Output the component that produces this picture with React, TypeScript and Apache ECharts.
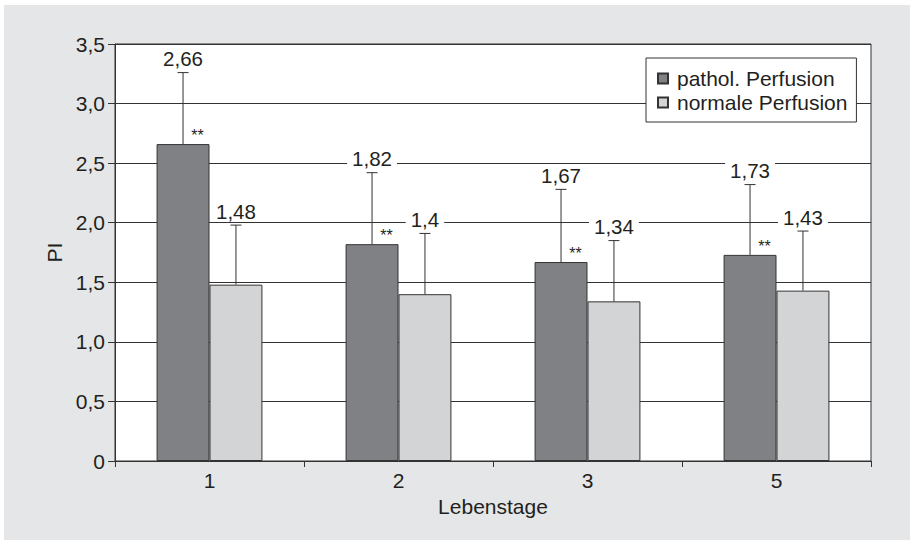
import React, { useEffect, useRef } from 'react';
import * as echarts from 'echarts';

const categories = ['1', '2', '3', '5'];
const seriesNames = ['pathol. Perfusion', 'normale Perfusion'];
const patholValues = [2.66, 1.82, 1.67, 1.73];
const normalValues = [1.48, 1.4, 1.34, 1.43];
const patholSD = [0.6, 0.6, 0.61, 0.59];
const normalSD = [0.5, 0.51, 0.51, 0.5];
const patholMarks = ['**', '**', '**', '**'];
const yMin = 0;
const yMax = 3.5;
const yStep = 0.5;

const FONT = '"Liberation Sans", Arial, Helvetica, sans-serif';
const TEXT = '#231f20';
const LINE = '#333';
const DARK = '#808185';
const LIGHT = '#d3d4d6';

const fmt = (v: number) => String(v).replace('.', ',');

export default function App() {
  const ref = useRef<HTMLDivElement>(null);
  useEffect(() => {
    if (!ref.current) return;
    const chart = echarts.init(ref.current, null, { renderer: 'svg' });
    const errData: any[] = [];
    patholValues.forEach((v, i) => errData.push([i, v, patholSD[i], 0]));
    normalValues.forEach((v, i) => errData.push([i, v, normalSD[i], 1]));

    chart.setOption({
      animation: false,
      backgroundColor: 'transparent',
      textStyle: { fontFamily: FONT },
      grid: {
        left: 115,
        top: 44,
        right: 39,
        bottom: 79,
        show: true,
        backgroundColor: '#fff',
        borderColor: LINE,
        borderWidth: 1,
      },
      legend: {
        data: seriesNames,
        orient: 'vertical',
        left: 646,
        top: 58,
        backgroundColor: '#fff',
        borderColor: LINE,
        borderWidth: 1,
        borderRadius: 0,
        padding: [10, 9, 9, 11],
        itemWidth: 10,
        itemHeight: 10,
        itemGap: 3,
        icon: 'rect',
        selectedMode: false,
        textStyle: { fontSize: 21, color: TEXT, fontFamily: FONT, padding: [0, 0, 0, 4] },
      },
      xAxis: {
        type: 'category',
        data: categories,
        name: 'Lebenstage',
        nameLocation: 'middle',
        nameGap: 34,
        nameTextStyle: { fontSize: 21, color: TEXT, fontFamily: FONT },
        axisLine: { lineStyle: { color: LINE, width: 1 } },
        axisTick: { show: true, length: 6, lineStyle: { color: LINE } },
        axisLabel: { fontSize: 21, color: TEXT, margin: 9, fontFamily: FONT },
        splitLine: { show: false },
      },
      yAxis: {
        type: 'value',
        min: yMin,
        max: yMax,
        interval: yStep,
        name: 'PI',
        nameLocation: 'middle',
        nameGap: 50,
        nameTextStyle: { fontSize: 21, color: TEXT, fontFamily: FONT },
        axisLine: { show: true, lineStyle: { color: LINE, width: 1 } },
        axisTick: { show: true, length: 7, lineStyle: { color: LINE } },
        axisLabel: {
          fontSize: 21,
          color: TEXT,
          margin: 10,
          fontFamily: FONT,
          formatter: (v: number) => (v === 0 ? '0' : v.toFixed(1).replace('.', ',')),
        },
        splitLine: { show: true, lineStyle: { color: LINE, width: 1 } },
      },
      series: [
        {
          name: seriesNames[0],
          type: 'bar',
          data: patholValues,
          barWidth: '28%',
          barGap: '0%',
          itemStyle: { color: DARK, borderColor: LINE, borderWidth: 1 },
        },
        {
          name: seriesNames[1],
          type: 'bar',
          data: normalValues,
          barWidth: '28%',
          barGap: '0%',
          itemStyle: { color: LIGHT, borderColor: LINE, borderWidth: 1 },
        },
        {
          name: 'errors',
          type: 'custom',
          z: 5,
          clip: false,
          encode: { x: 0, y: 1 },
          data: errData,
          renderItem: (params: any, api: any) => {
            const ci = api.value(0);
            const v = api.value(1);
            const sd = api.value(2);
            const s = api.value(3);
            const band = api.size([1, 0])[0];
            const bw = band * 0.28;
            const base = api.coord([ci, v]);
            const top = api.coord([ci, v + sd]);
            const x = base[0] + (s === 0 ? -bw / 2 : bw / 2);
            const children: any[] = [
              {
                type: 'line',
                shape: { x1: x, y1: base[1], x2: x, y2: top[1] },
                style: { stroke: LINE, lineWidth: 1 },
              },
              {
                type: 'line',
                shape: { x1: x - 5.5, y1: top[1], x2: x + 5.5, y2: top[1] },
                style: { stroke: LINE, lineWidth: 1 },
              },
              {
                type: 'text',
                style: {
                  text: fmt(v),
                  x,
                  y: top[1] - 14,
                  align: 'center',
                  verticalAlign: 'middle',
                  fill: TEXT,
                  fontSize: 20.5,
                  fontFamily: FONT,
                  lineHeight: 20,
                  backgroundColor: '#fff',
                  padding: [0, 5],
                },
              },
            ];
            if (s === 0 && patholMarks[ci]) {
              children.push({
                type: 'text',
                style: {
                  text: patholMarks[ci],
                  x: x + 14.5,
                  y: base[1] - 8.7,
                  align: 'center',
                  verticalAlign: 'middle',
                  fill: TEXT,
                  fontSize: 16,
                  fontFamily: FONT,
                },
              });
            }
            return { type: 'group', children };
          },
        },
      ],
    });
    return () => chart.dispose();
  }, []);

  return (
    <div style={{ position: 'fixed', left: 0, top: 0, width: 910, height: 540, background: '#fff' }}>
      <div style={{ position: 'absolute', left: 4, top: 5, right: 0, bottom: 0, background: '#e5e6e8' }} />
      <div ref={ref} style={{ position: 'absolute', left: 0, top: 0, width: 910, height: 540 }} />
    </div>
  );
}
